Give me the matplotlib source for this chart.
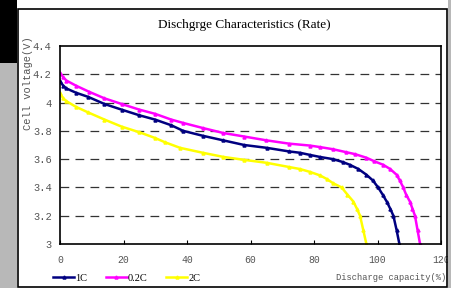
import matplotlib.pyplot as plt
from matplotlib.patches import Rectangle

# discharge data: capacity (%) vs cell voltage (V)
cap_1c = [0, 1, 2, 5, 8.9, 14, 19.4, 25, 29.9, 35, 38.8, 45, 51.4, 58, 65.1, 72,
          75.6, 78.7, 82, 86, 89, 91.3, 94, 96.5, 98.5, 100.2, 101.6, 102.9, 104,
          105, 106, 106.9]
v_1c = [4.15, 4.12, 4.10, 4.07, 4.04, 3.99, 3.95, 3.91, 3.88, 3.84, 3.80, 3.765,
        3.733, 3.70, 3.68, 3.655, 3.645, 3.63, 3.615, 3.60, 3.58, 3.56, 3.53, 3.49,
        3.45, 3.40, 3.35, 3.30, 3.25, 3.20, 3.10, 3.00]

cap_02c = [0, 1, 2, 5, 9, 14, 19.4, 25, 30, 35, 38.8, 45, 51.4, 58, 65, 72, 78.7,
           82, 86, 90, 93, 96.5, 99, 101.8, 104, 106, 107, 108.1, 109, 110.2, 111,
           111.8, 112.6, 113.4]
v_02c = [4.21, 4.18, 4.156, 4.12, 4.078, 4.03, 3.99, 3.95, 3.92, 3.88, 3.856,
         3.82, 3.785, 3.76, 3.733, 3.71, 3.696, 3.685, 3.67, 3.65, 3.635, 3.61,
         3.585, 3.56, 3.53, 3.49, 3.45, 3.40, 3.35, 3.30, 3.25, 3.20, 3.10, 3.00]

cap_2c = [0, 1, 2, 5, 8.9, 14, 19.4, 25, 29.9, 33, 37.8, 45, 51.4, 58, 65.1, 72,
          75.6, 78.7, 81.9, 84, 86, 88.7, 90.5, 92.4, 93.5, 94.5, 95.5, 96.5]
v_2c = [4.067, 4.03, 4.01, 3.97, 3.93, 3.88, 3.83, 3.79, 3.75, 3.72, 3.68, 3.645,
        3.616, 3.595, 3.574, 3.545, 3.53, 3.51, 3.485, 3.46, 3.43, 3.40, 3.35,
        3.30, 3.25, 3.20, 3.10, 3.00]

xticks = [0, 20, 40, 60, 80, 100, 120]
yticks = [3, 3.2, 3.4, 3.6, 3.8, 4, 4.2, 4.4]
ytick_labels = ['3', '3.2', '3.4', '3.6', '3.8', '4', '4.2', '4.4']

fig = plt.figure(figsize=(4.51, 2.88), dpi=100)
fig.patch.set_facecolor('white')

# scanned-image edges: dark/grey strip on the left, grey on the right
fig.patches.append(Rectangle((0, 0), 17/451, 1 - 63/288, transform=fig.transFigure,
                             facecolor='#b8b8b8', edgecolor='none', zorder=0))
fig.patches.append(Rectangle((0, 1 - 63/288), 17/451, 63/288, transform=fig.transFigure,
                             facecolor='black', edgecolor='none', zorder=0))
fig.patches.append(Rectangle((447.5/451, 0), 3.5/451, 1, transform=fig.transFigure,
                             facecolor='#b8b8b8', edgecolor='none', zorder=0))
# chart border
fig.patches.append(Rectangle((17.5/451, 1.5/288), (447 - 17.5)/451, 277.5/288,
                             transform=fig.transFigure, fill=False,
                             edgecolor='black', linewidth=1.2, zorder=1))

ax = fig.add_axes([60/451, 1 - 244/288, (441 - 60)/451, (244 - 46)/288])

l1, = ax.plot(cap_1c, v_1c, color='#000080', lw=1.8, marker='^', ms=2.2)
l2, = ax.plot(cap_02c, v_02c, color='#FF00FF', lw=1.8, marker='^', ms=2.2)
l3, = ax.plot(cap_2c, v_2c, color='#FFFF00', lw=1.8, marker='^', ms=2.2)

ax.set_xlim(0, 120)
ax.set_ylim(3, 4.4)
ax.set_xticks(xticks)
ax.set_yticks(yticks)
ax.set_yticklabels(ytick_labels)
ax.tick_params(axis='x', direction='in', length=3, pad=8, labelsize=7, labelcolor='#555555')
ax.tick_params(axis='y', length=0, pad=6, labelsize=7.5, labelcolor='#555555')
for lab in ax.get_xticklabels() + ax.get_yticklabels():
    lab.set_family('Liberation Mono')

for y in yticks[1:-1]:
    ax.axhline(y, color='#333333', lw=0.9, ls=(0, (7, 5)), zorder=0)

for s in ax.spines.values():
    s.set_linewidth(1.2)
    s.set_color('black')

fig.text(244/451, 1 - 25/288, 'Dischgrge Characteristics (Rate)', ha='center', va='center',
         family='Liberation Serif', fontsize=9.5)
fig.text(28/451, 1 - 83/288, 'Cell voltage(V)', rotation=90, ha='center', va='center',
         family='Liberation Mono', fontsize=7.5, color='#555555')
fig.text(446/451, 1 - 278/288, 'Discharge capacity(%)', ha='right', va='center',
         family='Liberation Mono', fontsize=6.3, color='#555555')

fig.legend([l1, l2, l3], ['1C', '0.2C', '2C'], loc='center left',
           bbox_to_anchor=(44/451, 1 - 278/288), ncol=3, frameon=False,
           handlelength=2.0, handletextpad=0.1, columnspacing=1.8,
           prop={'family': 'Liberation Serif', 'size': 7.5})

fig.savefig('out.png', dpi=100)
